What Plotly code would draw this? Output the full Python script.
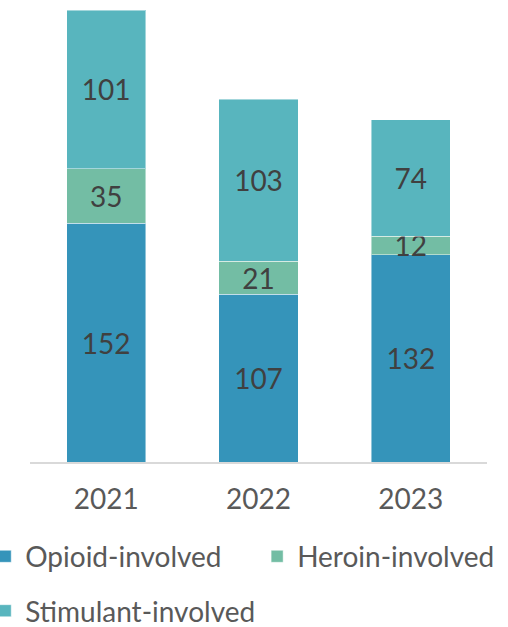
import plotly.graph_objects as go

years = ["2021", "2022", "2023"]
opioid = [152, 107, 132]
heroin = [35, 21, 12]
stimulant = [101, 103, 74]

FONT = "Lato"
SIZE = 28
series = [
    ("Opioid-involved", opioid, "#3594BA", "legend"),
    ("Heroin-involved", heroin, "#73BDA4", "legend2"),
    ("Stimulant-involved", stimulant, "#58B5BE", "legend"),
]

fig = go.Figure()
for name, vals, color, lg in series:
    fig.add_trace(go.Bar(
        x=years, y=vals, name=name, legend=lg, legendgroup=name,
        marker=dict(color=color, line=dict(color="rgba(255,255,255,0.45)", width=1)),
        text=[str(v) for v in vals], textposition="inside", insidetextanchor="middle",
        textangle=0, constraintext="none",
        textfont=dict(family=FONT, size=SIZE, color="#404040"),
    ))

legend_font = dict(family=FONT, size=SIZE, color="#595959")
fig.update_layout(
    barmode="stack", bargap=0.48,
    width=508, height=627,
    margin=dict(l=30, r=21, t=10, b=165, autoexpand=False),
    plot_bgcolor="white", paper_bgcolor="white",
    uniformtext=dict(mode="show", minsize=SIZE),
    showlegend=True,
    legend=dict(x=-0.098, xanchor="left", y=-0.154, yanchor="top",
                orientation="v", traceorder="grouped",
                tracegroupgap=15, font=legend_font, bgcolor="rgba(0,0,0,0)"),
    legend2=dict(x=0.497, xanchor="left", y=-0.154, yanchor="top",
                 orientation="v", font=legend_font, bgcolor="rgba(0,0,0,0)"),
    font=dict(family=FONT),
)
fig.update_xaxes(showline=True, linecolor="#D9D9D9", linewidth=2, ticks="",
                 tickfont=dict(family=FONT, size=SIZE, color="#595959"),
                 ticklabelstandoff=11)
fig.update_yaxes(range=[0, 288], visible=False, showgrid=False)

fig.write_html("out.html", config={"displayModeBar": False},
               post_script="document.body.style.margin='0';document.body.style.overflow='hidden';")
